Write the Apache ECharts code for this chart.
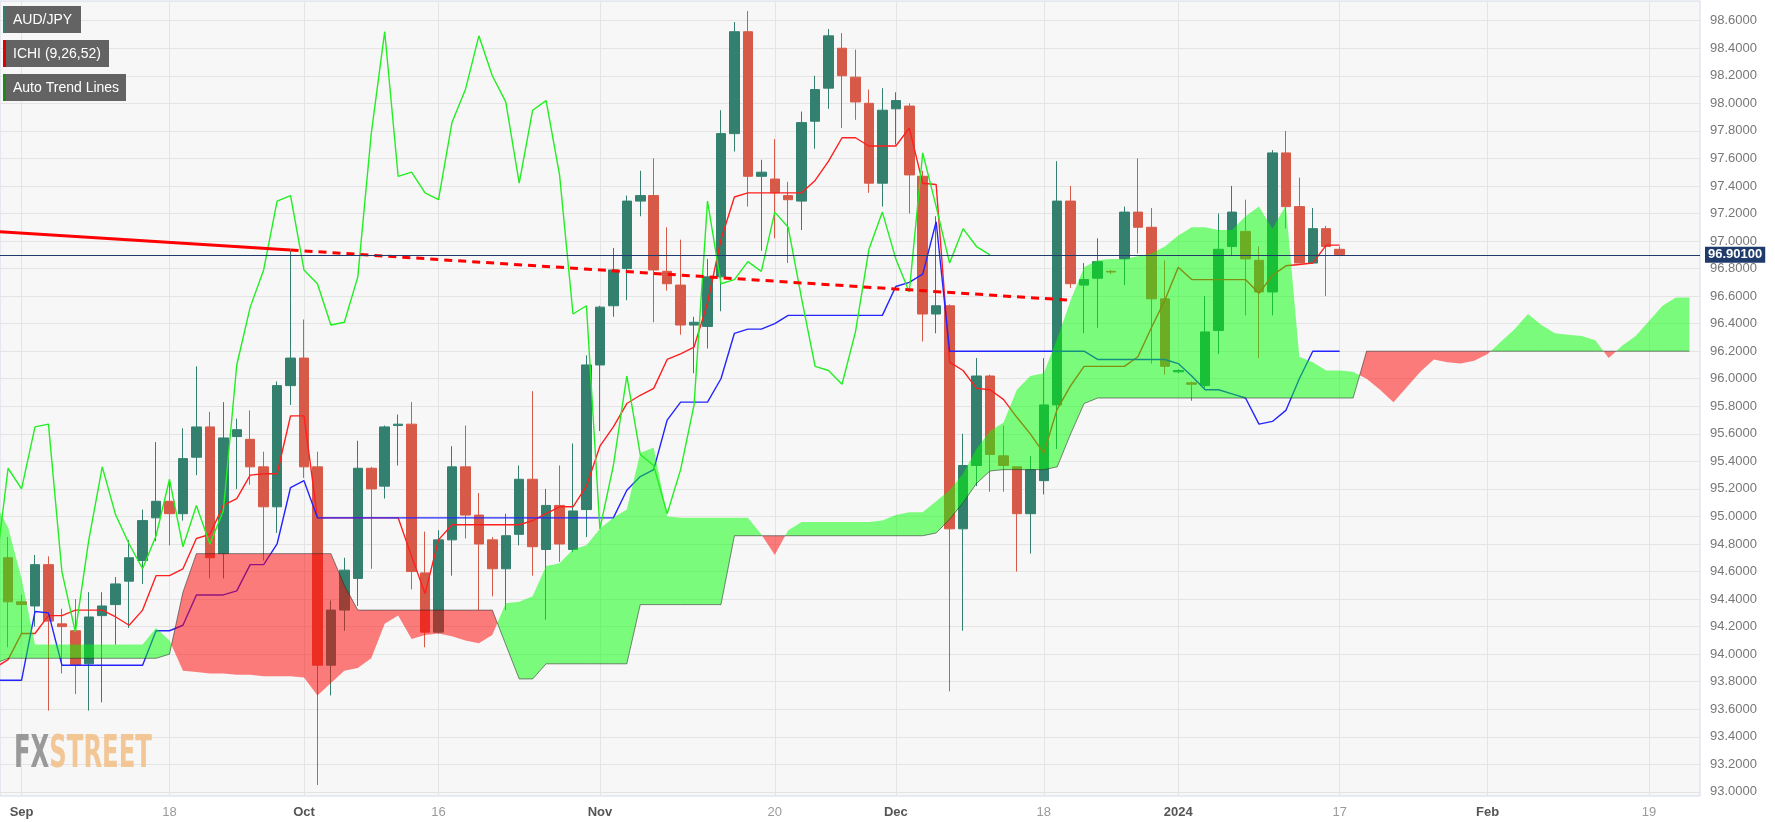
<!DOCTYPE html>
<html><head><meta charset="utf-8">
<script src="https://cdn.jsdelivr.net/npm/echarts@6/dist/echarts.min.js"></script>
<style>html,body{margin:0;padding:0;background:#fff;}#chart{width:1775px;height:822px;}</style>
</head><body><div id="chart"></div>
<script>
// index -1 = Aug 30 2023, index 0 = Aug 31, ... index 99 = Jan 17 2024, index 125 = Feb 22 2024 (weekdays)
const startIdx = -1;

const opens = [94.55,94.70,94.38,94.35,94.65,94.22,94.17,93.93,94.28,94.36,94.53,94.68,94.99,95.11,95.02,95.43,95.65,94.73,95.58,95.56,95.36,95.07,95.95,96.15,95.36,93.92,94.32,94.55,95.35,95.22,95.66,95.67,94.59,94.16,94.83,95.36,95.01,94.83,94.62,94.87,95.27,94.76,95.08,94.76,95.05,96.10,96.53,96.80,97.29,97.33,96.78,96.68,96.39,96.38,96.74,97.78,98.52,97.47,97.45,97.33,97.29,97.87,98.11,98.40,98.19,98.00,97.42,97.96,97.98,97.47,96.47,96.53,94.91,95.37,96.02,95.44,95.36,95.02,95.26,95.81,97.29,96.68,96.73,96.78,96.87,97.21,97.10,96.58,96.05,95.97,95.95,96.35,96.96,97.07,96.86,96.63,97.64,97.25,96.84,97.09,96.94];
const closes = [94.72,94.38,94.36,94.65,94.24,94.20,93.92,94.27,94.35,94.51,94.70,94.97,95.11,95.02,95.42,95.65,94.70,95.57,95.63,95.36,95.07,95.95,96.15,95.36,93.92,94.32,94.61,95.35,95.20,95.65,95.67,94.60,94.16,94.83,95.36,95.01,94.80,94.62,94.86,95.27,94.78,95.08,94.80,95.04,96.10,96.52,96.79,97.29,97.33,96.79,96.69,96.39,96.41,96.74,97.78,98.52,97.47,97.50,97.35,97.30,97.86,98.10,98.49,98.20,98.01,97.42,97.95,98.02,97.48,96.47,96.53,94.91,95.37,96.02,95.45,95.37,95.02,95.34,95.81,97.29,96.69,96.72,96.85,96.775,97.21,97.10,96.58,96.09,96.06,95.96,96.34,96.94,97.21,96.87,96.63,97.64,97.25,96.84,97.09,96.96,96.901];
const lows = [94.30,94.05,94.15,94.20,93.59,93.86,93.71,93.59,93.65,94.07,94.19,94.51,94.82,94.79,94.97,95.30,94.55,94.55,95.20,95.23,94.68,94.88,95.81,95.28,93.05,93.70,94.17,94.35,94.62,95.13,95.37,94.47,94.05,94.15,94.57,94.84,94.32,94.42,94.32,94.79,94.57,94.25,94.67,94.74,94.85,95.62,96.45,96.57,97.18,96.41,96.64,96.32,96.04,96.22,96.49,97.65,97.25,96.93,97.02,96.84,97.08,97.67,97.96,97.82,97.88,97.35,97.25,97.70,97.20,96.27,96.33,93.73,94.17,95.22,95.18,95.18,94.60,94.73,95.16,95.49,96.66,96.33,96.37,96.76,96.68,96.91,96.11,96.03,96.04,95.84,95.92,96.18,96.89,96.46,96.15,96.46,97.09,96.84,96.84,96.60,96.89];
const highs = [94.90,94.85,94.43,94.72,94.71,94.33,94.40,94.45,94.45,94.56,94.83,95.05,95.54,95.25,95.64,96.09,95.76,95.83,95.71,95.77,95.47,95.98,96.93,96.43,95.47,94.39,94.70,95.55,95.36,95.66,95.74,95.83,94.89,94.90,95.51,95.66,95.17,94.85,95.02,95.37,95.91,95.20,95.37,95.53,96.17,96.53,96.95,97.33,97.51,97.60,97.10,97.01,96.45,96.87,97.95,98.59,98.67,97.59,97.74,97.43,97.94,98.20,98.54,98.51,98.39,98.10,98.11,98.08,98.00,97.51,97.18,96.54,95.60,96.15,96.03,95.66,95.36,95.44,96.15,97.58,97.40,96.84,97.02,96.79,97.25,97.60,97.24,96.86,96.07,95.98,96.60,97.20,97.40,97.30,96.96,97.66,97.80,97.46,97.24,97.11,96.96];

const tenkan = [93.90,93.96,94.15,94.15,94.28,94.28,94.32,94.32,94.32,94.27,94.21,94.32,94.57,94.57,94.62,94.84,94.87,95.08,95.13,95.30,95.31,95.31,95.73,95.73,94.99,94.99,94.99,94.99,94.99,94.99,94.99,94.71,94.44,94.83,94.94,94.94,94.94,94.94,94.94,94.94,94.97,95.02,95.07,95.07,95.22,95.51,95.65,95.82,95.88,95.93,96.14,96.18,96.23,96.55,97.01,97.32,97.35,97.35,97.35,97.35,97.35,97.44,97.58,97.75,97.75,97.69,97.69,97.69,97.82,97.42,97.41,96.12,96.06,95.93,95.92,95.85,95.72,95.60,95.46,95.78,95.95,96.09,96.09,96.09,96.09,96.16,96.37,96.57,96.81,96.72,96.72,96.72,96.72,96.72,96.62,96.75,96.82,96.83,96.84,96.97,96.97];
const kijun = [93.81,93.81,93.81,94.31,94.30,93.92,93.92,93.92,93.92,93.92,93.92,93.92,94.17,94.17,94.21,94.43,94.43,94.43,94.46,94.65,94.65,94.80,95.21,95.26,94.99,94.99,94.99,94.99,94.99,94.99,94.99,94.99,94.99,94.99,94.99,94.99,94.99,94.99,94.99,94.99,94.99,94.99,94.99,94.99,94.99,94.99,94.99,95.19,95.29,95.34,95.70,95.83,95.83,95.83,96.00,96.33,96.36,96.36,96.40,96.46,96.46,96.46,96.46,96.46,96.46,96.46,96.46,96.67,96.70,96.76,97.14,96.20,96.20,96.20,96.20,96.20,96.20,96.20,96.20,96.20,96.20,96.20,96.14,96.14,96.14,96.14,96.14,96.14,96.11,96.02,95.92,95.92,95.89,95.86,95.67,95.69,95.77,96.00,96.20,96.20,96.20];
const chikou = [94.55,95.35,95.20,95.65,95.67,94.60,94.16,94.83,95.36,95.01,94.80,94.62,94.86,95.27,94.78,95.08,94.80,95.04,96.10,96.52,96.79,97.29,97.33,96.79,96.69,96.39,96.41,96.74,97.78,98.52,97.47,97.50,97.35,97.30,97.86,98.10,98.49,98.20,98.01,97.42,97.95,98.02,97.48,96.47,96.53,94.91,95.37,96.02,95.45,95.37,95.02,95.34,95.81,97.29,96.69,96.72,96.85,96.78,97.21,97.10,96.58,96.09,96.06,95.96,96.34,96.94,97.21,96.87,96.63,97.64,97.25,96.84,97.09,96.96,96.90];
const senkouA = [95.10,94.92,94.55,94.07,94.07,94.07,94.07,94.07,94.07,94.07,94.07,94.07,94.19,94.10,93.88,93.87,93.86,93.86,93.85,93.85,93.84,93.84,93.84,93.83,93.70,93.79,93.88,93.90,93.97,94.22,94.28,94.11,94.14,94.15,94.13,94.10,94.08,94.14,94.37,94.38,94.42,94.64,94.66,94.76,94.79,94.91,94.99,95.05,95.46,95.50,95.00,94.99,94.99,94.99,94.99,94.99,94.99,94.87,94.72,94.90,94.96,94.96,94.96,94.96,94.96,94.96,94.97,95.01,95.03,95.03,95.11,95.19,95.31,95.49,95.62,95.68,95.92,96.02,96.04,96.29,96.57,96.81,96.86,96.87,96.87,96.89,96.91,96.96,97.04,97.10,97.10,97.08,97.08,97.18,97.25,97.09,97.26,96.16,96.12,96.06,96.06,96.05,96.00,95.92,95.83,95.94,96.05,96.14,96.12,96.11,96.13,96.18,96.27,96.36,96.47,96.39,96.33,96.32,96.31,96.28,96.15,96.24,96.31,96.42,96.53,96.59,96.59];
const senkouB = [93.93,93.97,93.97,93.97,93.97,93.97,93.97,93.97,93.97,93.97,93.97,93.97,93.97,94.00,94.45,94.73,94.73,94.73,94.73,94.73,94.73,94.73,94.73,94.73,94.73,94.73,94.50,94.32,94.32,94.32,94.32,94.32,94.32,94.32,94.32,94.32,94.32,94.32,94.07,93.82,93.82,93.93,93.93,93.93,93.93,93.93,93.93,93.93,94.36,94.36,94.36,94.36,94.36,94.36,94.36,94.86,94.86,94.86,94.86,94.86,94.86,94.86,94.86,94.86,94.86,94.86,94.86,94.86,94.86,94.86,94.88,94.98,95.10,95.24,95.33,95.34,95.34,95.34,95.34,95.36,95.60,95.82,95.86,95.86,95.86,95.86,95.86,95.86,95.86,95.86,95.86,95.86,95.86,95.86,95.86,95.86,95.86,95.86,95.86,95.86,95.86,95.86,96.20,96.20,96.20,96.20,96.20,96.20,96.20,96.20,96.20,96.20,96.20,96.20,96.20,96.20,96.20,96.20,96.20,96.20,96.20,96.20,96.20,96.20,96.20,96.20,96.20];

const trendSolid = [[-1, 97.07], [21, 96.935]];
const trendDotted = [[21, 96.935], [79, 96.57]];
const lastPrice = 96.901;

const dateTickIdx = [1, 12, 22, 32, 44, 57, 66, 77, 87, 99, 110, 122];
const dateTickLabels = ['Sep', '18', 'Oct', '16', 'Nov', '20', 'Dec', '18', '2024', '17', 'Feb', '19'];
const monthLabels = ['Sep', 'Oct', 'Nov', 'Dec', '2024', 'Feb'];
const yTicks = [93.0,93.2,93.4,93.6,93.8,94.0,94.2,94.4,94.6,94.8,95.0,95.2,95.4,95.6,95.8,96.0,96.2,96.4,96.6,96.8,97.0,97.2,97.4,97.6,97.8,98.0,98.2,98.4,98.6];

const UP = '#33806f', DOWN = '#d75a49';
const FONT = '"Liberation Sans", Arial, sans-serif';

const candleData = opens.map((o, i) => [startIdx + i, o, closes[i], lows[i], highs[i]]);
const toXY = arr => arr.map((v, i) => [startIdx + i, v]);

function buildCloud() {
  const polys = [];
  let cur = null;
  for (let i = 0; i < senkouA.length; i++) {
    const x = startIdx + i, a = senkouA[i], b = senkouB[i], d = a - b;
    if (!cur) { cur = {up: d >= 0, top: [[x, a]], bot: [[x, b]]}; continue; }
    const up = d > 0 ? true : (d < 0 ? false : cur.up);
    if (up !== cur.up) {
      const pa = senkouA[i - 1], pb = senkouB[i - 1], pd = pa - pb;
      const t = pd / (pd - d);
      const xc = x - 1 + t, yc = pa + t * (a - pa);
      cur.top.push([xc, yc]); cur.bot.push([xc, yc]);
      polys.push(cur);
      cur = {up: up, top: [[xc, yc]], bot: [[xc, yc]]};
    }
    cur.top.push([x, a]); cur.bot.push([x, b]);
  }
  polys.push(cur);
  return polys;
}

const chart = echarts.init(document.getElementById('chart'), null, {renderer: 'canvas'});

const legendBox = (y, w, stripe, text) => ([
  {type: 'rect', shape: {x: 3, y: y, width: w, height: 27}, style: {fill: '#636363'}, z: 100},
  {type: 'rect', shape: {x: 3, y: y, width: 3, height: 27}, style: {fill: stripe}, z: 101},
  {type: 'text', x: 13, y: y + 14, style: {text: text, fill: '#ffffff', font: '14px ' + FONT, verticalAlign: 'middle', align: 'left'}, z: 102}
]);

const option = {
  animation: false,
  backgroundColor: '#ffffff',
  grid: {left: 0, right: 75, top: 1, bottom: 26, show: true, backgroundColor: '#f7f7f7',
         borderColor: '#d4dae6', borderWidth: 1, containLabel: false, outerBoundsMode: 'none'},
  xAxis: {
    type: 'value', min: -0.602, max: 125.79,
    axisLine: {show: false},
    axisTick: {show: false, customValues: dateTickIdx},
    splitLine: {show: true, lineStyle: {color: '#e4e4e4', width: 1}},
    axisLabel: {
      customValues: dateTickIdx, margin: 10, fontSize: 13, fontFamily: FONT,
      formatter: function (v) {
        const k = dateTickIdx.indexOf(Math.round(v));
        if (k < 0) return '';
        const s = dateTickLabels[k];
        return monthLabels.indexOf(s) >= 0 ? '{m|' + s + '}' : '{d|' + s + '}';
      },
      rich: {
        m: {fontWeight: 'bold', color: '#555555', fontSize: 13, fontFamily: FONT},
        d: {color: '#9a9a9a', fontSize: 13, fontFamily: FONT}
      }
    }
  },
  yAxis: {
    type: 'value', position: 'right', min: 92.97, max: 98.743,
    axisLine: {show: false},
    axisTick: {show: false, customValues: yTicks},
    splitLine: {show: true, lineStyle: {color: '#e4e4e4', width: 1}},
    axisLabel: {customValues: yTicks, margin: 10, color: '#777777', fontSize: 13, fontFamily: FONT,
                formatter: v => v.toFixed(4)}
  },
  graphic: [].concat(
    legendBox(6, 78, '#2e7d6e', 'AUD/JPY'),
    legendBox(40, 106, '#e00000', 'ICHI (9,26,52)'),
    legendBox(74, 123, '#1a8a1a', 'Auto Trend Lines'),
    [{type: 'text', x: 14, y: 755, scaleX: 0.6, z: 90,
      style: {text: '{a|FX}{b|STREET}', verticalAlign: 'middle', opacity: 0.9,
              rich: {a: {fill: '#8e8e8e', fontSize: 45, fontWeight: 'bold', fontFamily: '"Liberation Sans Narrow", "DejaVu Sans Condensed", sans-serif'},
                     b: {fill: '#f1c089', fontSize: 45, fontWeight: 'bold', fontFamily: '"Liberation Sans Narrow", "DejaVu Sans Condensed", sans-serif'}}}}]
  ),
  series: [
    {
      type: 'candlestick', name: 'AUD/JPY', data: candleData, barWidth: 10, z: 2, silent: true,
      itemStyle: {color: UP, color0: DOWN, borderColor: UP, borderColor0: DOWN, borderWidth: 1},
      markLine: {
        silent: true, symbol: ['none', 'none'], z: 10, animation: false,
        data: [{yAxis: lastPrice}],
        lineStyle: {color: '#1f3b6b', width: 1, type: 'solid'},
        label: {show: true, position: 'end', formatter: lastPrice.toFixed(5), color: '#ffffff',
                backgroundColor: '#1f3b6b', fontWeight: 'bold', fontSize: 13, fontFamily: FONT,
                padding: [2, 3, 1, 3], distance: 5},
        emphasis: {disabled: true}
      }
    },
    {type: 'line', name: 'Tenkan', data: toXY(tenkan), symbol: 'none', silent: true, z: 3,
     lineStyle: {color: '#ff1f1f', width: 1.4}},
    {type: 'line', name: 'Kijun', data: toXY(kijun), symbol: 'none', silent: true, z: 3,
     lineStyle: {color: '#2424ff', width: 1.4}},
    {
      type: 'custom', name: 'Cloud', z: 4, silent: true, clip: true,
      data: [[startIdx, senkouB[0]]], encode: {x: 0, y: 1},
      renderItem: function (params, api) {
        const polys = buildCloud();
        return {type: 'group', children: polys.map(p => ({
          type: 'polygon',
          shape: {points: p.top.concat(p.bot.slice().reverse()).map(pt => api.coord(pt))},
          style: {fill: p.up ? 'rgba(0,255,0,0.5)' : 'rgba(255,0,0,0.5)', stroke: null}
        }))};
      }
    },
    {type: 'line', name: 'SenkouB', data: toXY(senkouB), symbol: 'none', silent: true, z: 5,
     lineStyle: {color: 'rgba(40,40,40,0.55)', width: 1}},
    {type: 'line', name: 'Chikou', data: toXY(chikou), symbol: 'none', silent: true, z: 6,
     lineStyle: {color: '#22ee22', width: 1.4}},
    {type: 'line', name: 'Trend', data: trendSolid, symbol: 'none', silent: true, z: 7,
     lineStyle: {color: '#ff0000', width: 3}},
    {type: 'line', name: 'TrendExt', data: trendDotted, symbol: 'none', silent: true, z: 7,
     lineStyle: {color: '#ff0000', width: 3, type: [8, 6]}}
  ]
};
chart.setOption(option);
</script>
</body></html>
